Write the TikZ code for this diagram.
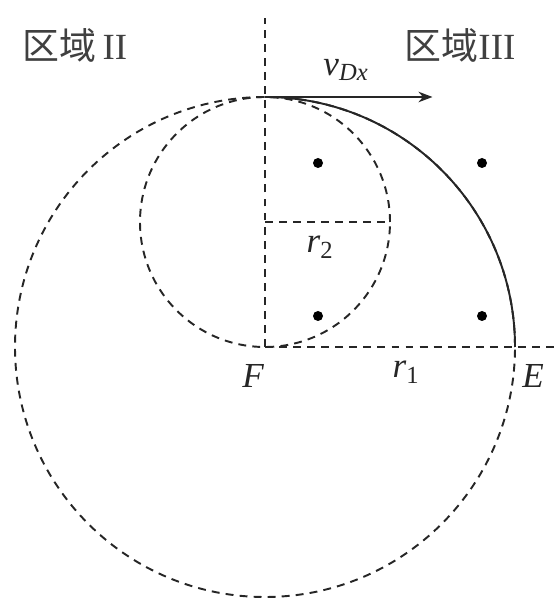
\documentclass[tikz,border=0pt]{standalone}
\usepackage{fontspec}
\setmainfont{Liberation Serif}
\newfontfamily\cjk{Noto Sans CJK SC}
\usetikzlibrary{arrows.meta}

\begin{document}
\begin{tikzpicture}[
    dashline/.style={dash pattern=on 4.5pt off 3.5pt, line width=1.1pt, draw=black!85},
    solidline/.style={line width=1.1pt, draw=black!85},
    arrow/.style={-{Stealth[length=8pt,width=6pt]}, line width=1.1pt, draw=black!85},
    dot/.style={circle, fill=black, inner sep=0pt, minimum size=0.2cm},
    label/.style={font=\fontsize{20}{24}\selectfont\itshape, text=black!85},
    region/.style={font=\fontsize{21}{24}\selectfont, text=black!75},
]
\useasboundingbox (0,0) rectangle (11.1,11.98);

% === POINTS ===
\coordinate (F) at (5.30,5.04);
\coordinate (E) at (10.30,5.04);
\coordinate (top) at (5.30,10.04);
\coordinate (c2) at (5.30,7.54);
\coordinate (axtop) at (5.30,11.62);
\coordinate (axright) at (11.1,5.04);
\coordinate (r2end) at (7.80,7.54);
\coordinate (vend) at (8.65,10.04);

% === CIRCLES ===
\draw[dashline] (F) circle (5.0);
\draw[dashline] (c2) circle (2.5);

% === AXES ===
\draw[dashline] (F) -- (axtop);
\draw[dashline] (F) -- (axright);
\draw[dashline] (c2) -- (r2end);

% === TRAJECTORY ===
\draw[solidline] (top) arc[start angle=90, end angle=0, radius=5.0];
\draw[arrow] (top) -- (vend);

% === FIELD DOTS ===
\node[dot] (d1) at (6.36,8.72) {};
\node[dot] (d2) at (9.64,8.72) {};
\node[dot] (d3) at (6.36,5.66) {};
\node[dot] (d4) at (9.64,5.66) {};

% === LABELS ===
\node[label] (lF) at (5.06,4.46) {F};
\node[label] (lE) at (10.66,4.46) {E};
\node[label] (lr1) at (8.12,4.54) {r\textsubscript{\upshape 1}};
\node[label] (lr2) at (6.40,7.04) {r\textsubscript{\upshape 2}};
\node[label] (lv) at (6.92,10.58) {v\textsubscript{Dx}};
\node[region] (reg2) at (1.50,11.08) {{\cjk 区域}\,II};
\node[region] (reg3) at (9.20,11.08) {{\cjk 区域}III};

\end{tikzpicture}
\end{document}
